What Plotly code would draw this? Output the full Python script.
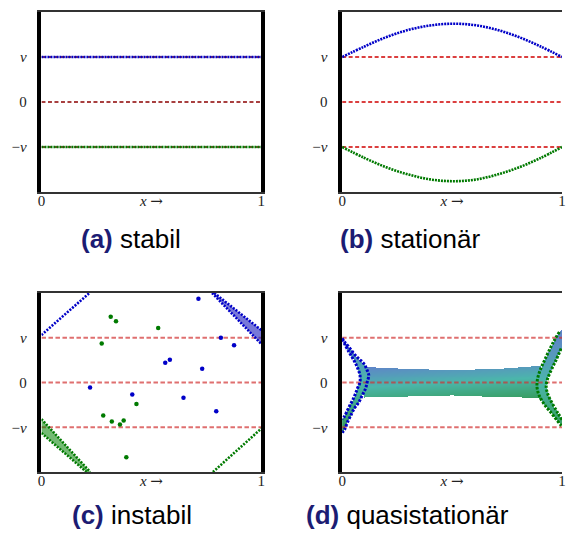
import numpy as np
import plotly.graph_objects as go

# ---------------- data (units of v) ----------------
ref_levels = [1, 0, -1]
ytick_vals = [-1, 0, 1]
ytick_text = ["\u2212<i>v</i>", "0", "<i>v</i>"]
xtick_vals = [0, 0.5, 1]
xtick_text = ["0", "<i>x</i> <span style='font-family:DejaVu Serif'>\u2192</span>", "1"]

# (a) stabil
a_x = [0.0, 1.0]
a_blue = [1.0, 1.0]
a_green = [-1.0, -1.0]

# (b) stationaer
b_x = [0.0, 0.1, 0.2, 0.3, 0.4, 0.5, 0.6, 0.7, 0.8, 0.9, 1.0]
b_blue = [1.0, 1.23, 1.44, 1.60, 1.70, 1.74, 1.71, 1.61, 1.45, 1.24, 1.0]
b_green = [-1.0, -1.24, -1.45, -1.61, -1.72, -1.76, -1.73, -1.62, -1.46, -1.25, -1.0]

# (c) instabil
c_bline_x = [0.0, 0.218]
c_bline_y = [1.06, 2.0]
c_gline_x = [0.78, 1.0]
c_gline_y = [-2.0, -1.03]
c_bband_up_x = [0.786, 1.0]
c_bband_up_y = [2.0, 1.17]
c_bband_lo_x = [0.776, 1.0]
c_bband_lo_y = [2.0, 0.86]
c_gband_up_x = [0.0, 0.222]
c_gband_up_y = [-0.82, -2.0]
c_gband_lo_x = [0.0, 0.205]
c_gband_lo_y = [-1.13, -2.0]
c_bpts_x = [0.714, 0.816, 0.876, 0.563, 0.584, 0.731, 0.221, 0.413, 0.646, 0.795]
c_bpts_y = [1.87, 1.0, 0.83, 0.44, 0.51, 0.31, -0.11, -0.27, -0.34, -0.64]
c_gpts_x = [0.315, 0.339, 0.531, 0.274, 0.432, 0.281, 0.32, 0.357, 0.374, 0.386]
c_gpts_y = [1.47, 1.37, 1.22, 0.87, -0.48, -0.74, -0.87, -0.94, -0.85, -1.67]

# (d) quasistationaer
d_lo_x = [0.0, 0.009, 0.031, 0.054, 0.076, 0.099, 0.114, 0.121, 0.114, 0.106, 0.091, 0.076, 0.054, 0.039, 0.024, 0.012, 0.0]
d_lo_y = [0.99, 0.92, 0.79, 0.64, 0.53, 0.42, 0.27, 0.16, 0.01, -0.14, -0.29, -0.44, -0.59, -0.74, -0.89, -1.04, -1.12]
d_li_x = [0.0, 0.031, 0.054, 0.069, 0.081, 0.081, 0.069, 0.054, 0.031, 0.009, 0.0]
d_li_y = [0.97, 0.68, 0.49, 0.34, 0.16, 0.01, -0.14, -0.33, -0.55, -0.77, -0.82]
d_ro_x = [1.0, 0.988, 0.966, 0.943, 0.921, 0.901, 0.888, 0.887, 0.898, 0.921, 0.951, 0.981, 0.996, 1.0]
d_ro_y = [1.17, 1.13, 0.95, 0.73, 0.50, 0.28, 0.06, -0.13, -0.31, -0.50, -0.68, -0.87, -0.96, -0.98]
d_ri_x = [1.0, 0.996, 0.973, 0.951, 0.933, 0.928, 0.936, 0.955, 0.981, 1.0]
d_ri_y = [0.78, 0.76, 0.50, 0.28, 0.06, -0.09, -0.27, -0.46, -0.68, -0.83]
d_band_x = [0.10, 0.3, 0.5, 0.7, 0.90]
d_band_top = [0.35, 0.31, 0.29, 0.31, 0.37]
d_band_bot = [-0.34, -0.30, -0.28, -0.31, -0.36]

# ---------------- style ----------------
BLUE = "#0000c8"
GREEN = "#007a00"
CAPTION_COL = "#1c1c73"
W, H = 566, 536

panels = {
    "a": dict(x=(38, 261), y=(12, 192), ax="x", ay="y"),
    "b": dict(x=(343, 566), y=(12, 192), ax="x2", ay="y2"),
    "c": dict(x=(38, 261), y=(293, 472), ax="x3", ay="y3"),
    "d": dict(x=(343, 566), y=(293, 472), ax="x4", ay="y4"),
}
ref_style = {
    "a": dict(color="#8c0000", width=1.3, dash="4px,2.5px"),
    "b": dict(color="#d00000", width=1.4, dash="4px,2.5px"),
    "c": dict(color="rgba(210,50,50,0.7)", width=2, dash="4.5px,2.5px"),
    "d": dict(color="rgba(210,50,50,0.7)", width=2, dash="4.5px,2.5px"),
}

fig = go.Figure()


def add(p, **kw):
    fig.add_trace(go.Scatter(xaxis=panels[p]["ax"], yaxis=panels[p]["ay"],
                             showlegend=False, hoverinfo="skip", **kw))


def inside(px, py, xs, ys):
    xs = np.asarray(xs, float)
    ys = np.asarray(ys, float)
    res = np.zeros(px.shape, bool)
    j = len(xs) - 1
    for i in range(len(xs)):
        dy = ys[j] - ys[i]
        dy = dy if dy != 0 else 1e-12
        cond = ((ys[i] > py) != (ys[j] > py)) & (px < (xs[j] - xs[i]) * (py - ys[i]) / dy + xs[i])
        res ^= cond
        j = i
    return res


# (d) gradient fills via masked heatmap (drawn first, under everything)
gx = np.linspace(0, 1, 240)
gy = np.linspace(-1.25, 1.25, 130)
GX, GY = np.meshgrid(gx, gy)
Z = np.full(GX.shape, np.nan)
left_px = d_lo_x + d_li_x[::-1]
left_py = d_lo_y + d_li_y[::-1]
right_px = d_ro_x + d_ri_x[::-1]
right_py = d_ro_y + d_ri_y[::-1]
band_px = d_band_x + d_band_x[::-1]
band_py = d_band_top + d_band_bot[::-1]
inB = inside(GX, GY, band_px, band_py)
inS = inside(GX, GY, left_px, left_py) | inside(GX, GY, right_px, right_py)
Z[inB] = np.clip(0.7 * (GY[inB] + 0.32) / 0.64 + 0.3 * (1 - GX[inB]), 0, 1)
Z[inS] = np.clip((GY[inS] + 1.05) / 2.1, 0, 1)
fig.add_trace(go.Heatmap(x=gx, y=gy, z=Z, xaxis="x4", yaxis="y4", zmin=0, zmax=1,
                         showscale=False, hoverinfo="skip",
                         colorscale=[[0, "#379c5e"], [0.5, "#4bb6ab"], [1, "#5f84c8"]]))

# reference dashed lines
for p in "abcd":
    for lv in ref_levels:
        add(p, x=[0, 1], y=[lv, lv], mode="lines", line=ref_style[p])

# (a)
add("a", x=a_x, y=a_blue, mode="lines", line=dict(color=BLUE, width=2.6, dash="2px,1px"))
add("a", x=a_x, y=a_green, mode="lines", line=dict(color=GREEN, width=2.6, dash="2px,1px"))

# (b)
add("b", x=b_x, y=b_blue, mode="lines", line=dict(color=BLUE, width=2.6, dash="2px,1px", shape="spline"))
add("b", x=b_x, y=b_green, mode="lines", line=dict(color=GREEN, width=2.6, dash="2px,1px", shape="spline"))

# (c) bands
add("c", x=c_bband_up_x + c_bband_lo_x[::-1], y=c_bband_up_y + c_bband_lo_y[::-1],
    mode="none", fill="toself", fillcolor="rgba(30,30,190,0.6)")
add("c", x=c_gband_up_x + c_gband_lo_x[::-1], y=c_gband_up_y + c_gband_lo_y[::-1],
    mode="none", fill="toself", fillcolor="rgba(0,130,0,0.55)")
dl = dict(width=2.6, dash="2px,1.4px")
add("c", x=c_bband_up_x, y=c_bband_up_y, mode="lines", line=dict(color=BLUE, **dl))
add("c", x=c_bband_lo_x, y=c_bband_lo_y, mode="lines", line=dict(color=BLUE, **dl))
add("c", x=c_gband_up_x, y=c_gband_up_y, mode="lines", line=dict(color=GREEN, **dl))
add("c", x=c_gband_lo_x, y=c_gband_lo_y, mode="lines", line=dict(color=GREEN, **dl))
add("c", x=c_bline_x, y=c_bline_y, mode="lines", line=dict(color=BLUE, **dl))
add("c", x=c_gline_x, y=c_gline_y, mode="lines", line=dict(color=GREEN, **dl))
add("c", x=c_bpts_x, y=c_bpts_y, mode="markers", marker=dict(color=BLUE, size=4.5))
add("c", x=c_gpts_x, y=c_gpts_y, mode="markers", marker=dict(color=GREEN, size=4.5))

# (d) dotted boundaries
dd = dict(width=3, dash="2.5px,1.5px", shape="spline")
add("d", x=d_lo_x, y=d_lo_y, mode="lines", line=dict(color=BLUE, **dd))
add("d", x=d_li_x, y=d_li_y, mode="lines", line=dict(color=BLUE, **dd))
add("d", x=d_ro_x[1:], y=d_ro_y[1:], mode="lines", line=dict(color=GREEN, **dd))
add("d", x=d_ri_x[1:], y=d_ri_y[1:], mode="lines", line=dict(color=GREEN, **dd))

# axes
tickfont = dict(family="Liberation Serif", size=15, color="#222")
lay = {}
for p, g in panels.items():
    xn = "xaxis" + g["ax"][1:]
    yn = "yaxis" + g["ay"][1:]
    full = p in "ac"
    lay[xn] = dict(domain=[g["x"][0] / W, g["x"][1] / W], range=[0, 1], anchor=g["ay"],
                   tickvals=xtick_vals, ticktext=xtick_text, tickfont=tickfont,
                   showgrid=False, zeroline=False, showline=True, mirror=True,
                   linecolor="#333", linewidth=1.5, ticks="", ticklabelstandoff=-6,
                   fixedrange=True)
    lay[yn] = dict(domain=[1 - g["y"][1] / H, 1 - g["y"][0] / H], range=[-2, 2], anchor=g["ax"],
                   tickvals=ytick_vals, ticktext=ytick_text, tickfont=tickfont,
                   showgrid=False, zeroline=False, showline=True, mirror=full,
                   linecolor="#000", linewidth=3.5, ticks="outside", ticklen=8,
                   tickcolor="rgba(0,0,0,0)", fixedrange=True)

captions = [("a", "stabil", 129, 239.5), ("b", "station\u00e4r", 411.5, 239.5),
            ("c", "instabil", 130, 514.5), ("d", "quasistation\u00e4r", 409.5, 514.5)]
annotations = []
for lab, txt, cx, cy in captions:
    annotations.append(dict(
        text=f"<b><span style='color:{CAPTION_COL}'>({lab})</span></b> {txt}",
        x=cx / W, y=1 - cy / H, xref="paper", yref="paper", showarrow=False,
        xanchor="center", yanchor="middle",
        font=dict(family="Liberation Sans", size=26, color="#000")))

fig.update_layout(width=W, height=H, margin=dict(l=0, r=0, t=0, b=0),
                  plot_bgcolor="white", paper_bgcolor="white",
                  annotations=annotations, **lay)
fig.write_html("out.html")
